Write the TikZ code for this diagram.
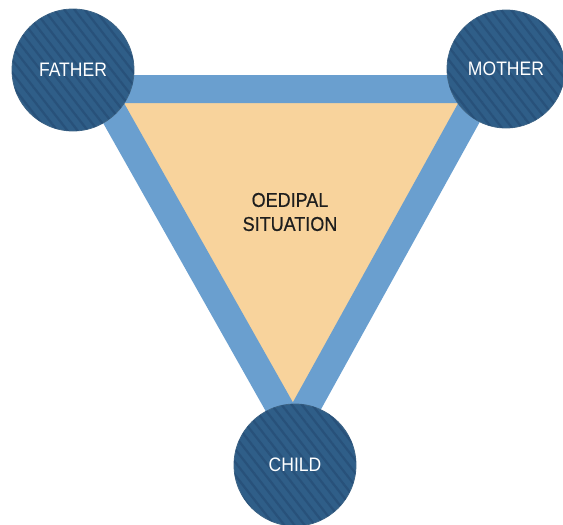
\documentclass[tikz,border=0pt]{standalone}
\usepackage{fontspec}
\setmainfont{Liberation Sans}[FakeStretch=0.9]
\newfontfamily\boldishfont{Liberation Sans}[FakeStretch=0.9,FakeBold=0.6]
\usetikzlibrary{patterns.meta}
\definecolor{bandblue}{HTML}{6A9FCF}
\definecolor{circblue}{HTML}{2F5E88}
\definecolor{stripeblue}{HTML}{28517A}
\definecolor{tanfill}{HTML}{F8D39C}
\definecolor{textdark}{HTML}{1E1E1E}
\begin{document}
\begin{tikzpicture}[x=1pt,y=-1pt,
  person/.style={circle, minimum size=122pt, inner sep=0pt,
    fill=circblue, draw=circblue!80!gray, line width=0.8pt,
    postaction={pattern={Lines[angle=-52,distance=8pt,line width=2.2pt]}, pattern color=stripeblue},
    text=white, font=\fontsize{19.5}{22}\selectfont},
  band/.style={draw=bandblue, line width=28pt, line join=miter, fill=tanfill},
  centre/.style={align=center, text=textdark, font=\boldishfont\fontsize{20}{24}\selectfont}
]
\useasboundingbox (0,0) rectangle (563,525);
\coordinate (tl) at (100,89);
\coordinate (tr) at (482,89);
\coordinate (bm) at (293,431);
\draw[band] (tl) -- (tr) -- (bm) -- cycle;
\node[centre] (oed) at (290,212) {OEDIPAL\\SITUATION};
\node[person] (father) at (73,70) {FATHER};
\node[person, minimum size=118pt] (mother) at (506,69) {MOTHER};
\node[person] (child) at (295,465) {CHILD};
\end{tikzpicture}
\end{document}
